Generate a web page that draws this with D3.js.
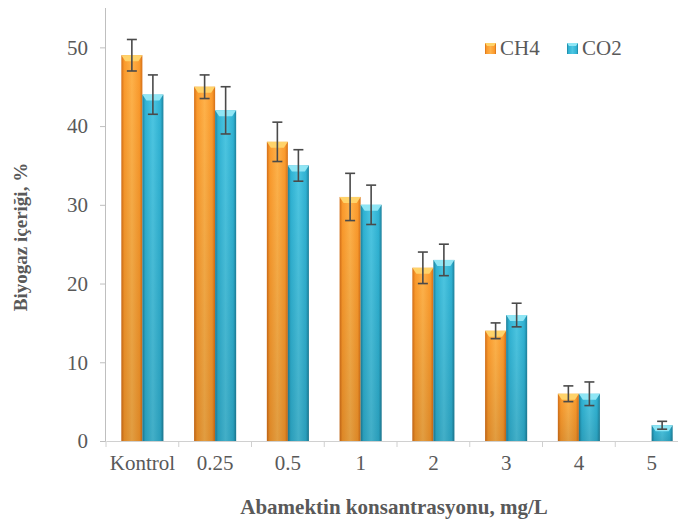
<!DOCTYPE html>
<html>
<head>
<meta charset="utf-8">
<script src="https://cdn.jsdelivr.net/npm/d3@7"></script>
<style>
  body { margin: 0; background: #fff; }
  svg { display: block; font-family: "Liberation Serif", "Times New Roman", serif; }
</style>
</head>
<body>
<script>
const categories = ['Kontrol', '0.25', '0.5', '1', '2', '3', '4', '5'];
const seriesNames = ['CH4', 'CO2'];
const ch4 = [49, 45, 38, 31, 22, 14, 6, 0];
const co2 = [44, 42, 35, 30, 23, 16, 6, 2];
const ch4Err = [2, 1.5, 2.5, 3, 2, 1, 1, null];
const co2Err = [2.5, 3, 2, 2.5, 2, 1.5, 1.5, 0.5];
const yTicks = [0, 10, 20, 30, 40, 50];

const width = 678, height = 520;
const margin = {top: 8, left: 106, bottom: 79};
const plotRight = 688;
const textColor = '#595959';

const svg = d3.select('body').append('svg')
  .attr('width', width)
  .attr('height', height);

// gradients for the bevelled bar look
const defs = svg.append('defs');
const grads = {
  CH4: {edge: '#d56f17', mid: '#fb9a2c', light: '#ffb24a', cap: '#ffd36a'},
  CO2: {edge: '#1d819c', mid: '#2fb2d3', light: '#4cc6e2', cap: '#8fe6f5'}
};
seriesNames.forEach(s => {
  const g = grads[s];
  const lg = defs.append('linearGradient').attr('id', 'g-' + s)
    .attr('x1', 0).attr('x2', 1).attr('y1', 0).attr('y2', 0);
  lg.append('stop').attr('offset', '0%').attr('stop-color', g.edge);
  lg.append('stop').attr('offset', '14%').attr('stop-color', g.mid);
  lg.append('stop').attr('offset', '50%').attr('stop-color', g.light);
  lg.append('stop').attr('offset', '86%').attr('stop-color', g.mid);
  lg.append('stop').attr('offset', '100%').attr('stop-color', g.edge);
});
const shade = defs.append('linearGradient').attr('id', 'shade')
  .attr('x1', 0).attr('x2', 0).attr('y1', 0).attr('y2', 1);
shade.append('stop').attr('offset', '0%').attr('stop-color', '#000').attr('stop-opacity', 0);
shade.append('stop').attr('offset', '100%').attr('stop-color', '#000').attr('stop-opacity', 0.12);

const y = d3.scaleLinear()
  .domain([0, 55])
  .range([height - margin.bottom, margin.top]);

const x = d3.scaleBand()
  .domain(categories)
  .range([margin.left, plotRight])
  .paddingInner(0);

const xs = d3.scaleBand()
  .domain(seriesNames)
  .range([0, x.bandwidth()])
  .paddingInner(0)
  .paddingOuter(0.73);

// y axis
const yAxis = svg.append('g')
  .attr('transform', `translate(${margin.left},0)`)
  .call(d3.axisLeft(y).tickValues(yTicks).tickSize(6).tickPadding(12));
yAxis.select('.domain').attr('stroke', '#bfbfbf').attr('d', `M-0.5,${y(0)}V${margin.top}`);
yAxis.selectAll('.tick line').attr('stroke', '#bfbfbf');
yAxis.selectAll('.tick text')
  .attr('fill', textColor)
  .style('font-size', '21px')
  .style('font-family', '"Liberation Serif", serif');

// x axis: labels centred, ticks on band boundaries
const xAxis = svg.append('g')
  .attr('transform', `translate(0,${y(0)})`)
  .call(d3.axisBottom(x).tickSize(0).tickPadding(14));
xAxis.select('.domain').attr('stroke', '#d0d0d0');
xAxis.selectAll('.tick text')
  .attr('fill', textColor)
  .style('font-size', '21px')
  .style('font-family', '"Liberation Serif", serif');
const bounds = categories.map(c => x(c)).concat([x.range()[1]]);
xAxis.selectAll('line.bound')
  .data(bounds)
  .enter().append('line')
  .attr('class', 'bound')
  .attr('x1', d => d).attr('x2', d => d)
  .attr('y1', 0).attr('y2', 6)
  .attr('stroke', '#d0d0d0');

// bars
const rows = categories.map((c, i) => [
  {cat: c, s: 'CH4', v: ch4[i], e: ch4Err[i]},
  {cat: c, s: 'CO2', v: co2[i], e: co2Err[i]}
]).flat().filter(d => d.v > 0);

const bars = svg.append('g').selectAll('g')
  .data(rows)
  .enter().append('g')
  .attr('transform', d => `translate(${x(d.cat) + xs(d.s)},0)`);

const bw = xs.bandwidth();
bars.append('rect')
  .attr('x', 0)
  .attr('y', d => y(d.v))
  .attr('width', bw)
  .attr('height', d => y(0) - y(d.v))
  .attr('fill', d => `url(#g-${d.s})`);

// soft darkening toward the base
bars.append('rect')
  .attr('x', 0)
  .attr('y', d => y(d.v))
  .attr('width', bw)
  .attr('height', d => y(0) - y(d.v))
  .attr('fill', 'url(#shade)');

// bevelled top cap
bars.append('path')
  .attr('d', d => {
    const t = y(d.v);
    return `M0,${t}H${bw}L${bw - 4},${t + 6}H4Z`;
  })
  .attr('fill', d => grads[d.s].cap);

// error bars
const eb = bars.filter(d => d.e != null);
eb.append('line')
  .attr('x1', bw / 2).attr('x2', bw / 2)
  .attr('y1', d => y(d.v + d.e)).attr('y2', d => y(d.v - d.e))
  .attr('stroke', '#4a4a4a').attr('stroke-width', 1.6);
eb.append('line')
  .attr('x1', bw / 2 - 5).attr('x2', bw / 2 + 5)
  .attr('y1', d => y(d.v + d.e)).attr('y2', d => y(d.v + d.e))
  .attr('stroke', '#4a4a4a').attr('stroke-width', 1.6);
eb.append('line')
  .attr('x1', bw / 2 - 5).attr('x2', bw / 2 + 5)
  .attr('y1', d => y(d.v - d.e)).attr('y2', d => y(d.v - d.e))
  .attr('stroke', '#4a4a4a').attr('stroke-width', 1.6);

// legend
const legend = svg.append('g').attr('transform', 'translate(485,48)');
const li = legend.selectAll('g')
  .data(seriesNames)
  .enter().append('g')
  .attr('transform', (d, i) => `translate(${i * 82},0)`);
li.append('rect')
  .attr('x', 0).attr('y', -5)
  .attr('width', 11).attr('height', 11)
  .attr('fill', d => `url(#g-${d})`);
li.append('path')
  .attr('d', 'M0,-5H11L9,-2H2Z')
  .attr('fill', d => grads[d].cap);
li.append('text')
  .attr('x', 15).attr('y', 7)
  .attr('fill', textColor)
  .style('font-size', '21px')
  .text(d => d);

// axis titles
svg.append('text')
  .attr('x', 394).attr('y', 514)
  .attr('text-anchor', 'middle')
  .attr('fill', textColor)
  .style('font-size', '21px')
  .style('font-weight', 'bold')
  .text('Abamektin konsantrasyonu, mg/L');

svg.append('text')
  .attr('transform', 'translate(27,237) rotate(-90)')
  .attr('text-anchor', 'middle')
  .attr('fill', textColor)
  .style('font-size', '19px')
  .style('font-weight', 'bold')
  .text('Biyogaz içeriği, %');
</script>
</body>
</html>
